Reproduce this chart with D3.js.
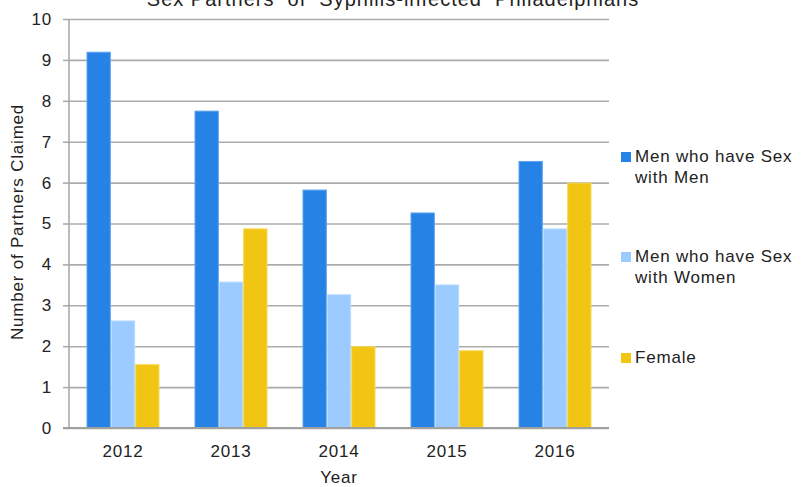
<!DOCTYPE html>
<html><head><meta charset="utf-8">
<script src="https://cdn.jsdelivr.net/npm/d3@7"></script>
<style>
html,body{margin:0;padding:0;background:#fff;}
text{font-family:"Liberation Sans",Arial,sans-serif;fill:#222;}
</style></head>
<body><svg id="c" width="801" height="487"></svg>
<script>
const years = ["2012","2013","2014","2015","2016"];
const seriesNames = ["Men who have Sex with Men","Men who have Sex with Women","Female"];
const msm = [9.2, 7.76, 5.83, 5.27, 6.53];
const msw = [2.63, 3.58, 3.27, 3.51, 4.88];
const female = [1.56, 4.88, 2.0, 1.9, 6.0];
const yTicks = [0,1,2,3,4,5,6,7,8,9,10];
const colors = ["#2683E5","#9BCBFF","#F2C512"];
const strokes = ["#5ea4ef","#b9dcff","#f7d757"];
const legendLines = [["Men who have Sex","with Men"],["Men who have Sex","with Women"],["Female"]];

const series = [msm, msw, female];
const svg = d3.select("#c");
const L = 69, R = 609, T = 19, B = 428;

const x = d3.scaleBand().domain(years).range([L, R]).paddingInner(0.324).paddingOuter(0.162);
const xs = d3.scaleBand().domain(d3.range(series.length)).range([0, x.bandwidth()]);
const y = d3.scaleLinear().domain([0, 10]).range([B, T]);

// gridlines
svg.append("g").attr("transform", `translate(${L},0)`)
  .call(d3.axisLeft(y).tickValues(yTicks).tickSize(-(R - L)).tickFormat(""))
  .call(g => g.select(".domain").remove())
  .call(g => g.selectAll("line").attr("stroke", "#ababab").attr("stroke-width", 1.6));

// y axis with ticks + labels
const ya = svg.append("g").attr("transform", `translate(${L},0)`)
  .call(d3.axisLeft(y).tickValues(yTicks).tickSize(6).tickPadding(11).tickFormat(d3.format("d")));
ya.select(".domain").remove();
ya.selectAll("line").attr("stroke", "#ababab").attr("stroke-width", 1.6);
ya.selectAll("text").attr("font-size", 17).attr("font-family", "Liberation Sans, Arial, sans-serif").attr("fill", "#222").attr("letter-spacing", "0.8px");

// bars
const groups = svg.append("g").selectAll("g").data(years).join("g")
  .attr("transform", d => `translate(${x(d)},0)`);
series.forEach((s, si) => {
  groups.append("rect")
    .attr("x", (d) => xs(si) + 0.5)
    .attr("width", xs.bandwidth() - 1)
    .attr("y", (d, i) => y(s[i]) + 0.5)
    .attr("height", (d, i) => y(0) - y(s[i]) - 0.5)
    .attr("fill", colors[si])
    .attr("stroke", strokes[si]).attr("stroke-width", 1);
});

// vertical axis line
svg.append("line").attr("x1", L).attr("x2", L).attr("y1", T).attr("y2", B)
  .attr("stroke", "#ababab").attr("stroke-width", 1.6);
// baseline
svg.append("line").attr("x1", L - 6).attr("x2", R).attr("y1", B).attr("y2", B)
  .attr("stroke", "#a0a0a0").attr("stroke-width", 2);

// x axis
const xa = svg.append("g").attr("transform", `translate(0,${B})`)
  .call(d3.axisBottom(x).tickSize(0).tickPadding(17));
xa.select(".domain").remove();
xa.selectAll("text").attr("font-size", 17).attr("font-family", "Liberation Sans, Arial, sans-serif").attr("fill", "#222").attr("letter-spacing", "0.8px");

// axis titles
svg.append("text").attr("x", 339).attr("y", 483).attr("text-anchor", "middle")
  .attr("font-size", 17).attr("letter-spacing", "0.8px").text("Year");
svg.append("text").attr("transform", "translate(23,222) rotate(-90)").attr("text-anchor", "middle")
  .attr("font-size", 17).attr("letter-spacing", "0.8px").text("Number of Partners Claimed");

// title (clipped at the top edge, as in the reference)
svg.append("text").attr("x", 393).attr("y", 6).attr("text-anchor", "middle")
  .attr("font-size", 20).attr("letter-spacing", "1px").attr("xml:space", "preserve")
  .style("white-space", "pre")
  .text("Sex Partners  of  Syphilis-infected  Philadelphians");

// legend
const legTop = [152, 252, 353];
const leg = svg.append("g");
seriesNames.forEach((n, i) => {
  const g = leg.append("g");
  g.append("rect").attr("x", 621).attr("y", legTop[i]).attr("width", 10).attr("height", 10).attr("fill", colors[i]);
  legendLines[i].forEach((ln, j) => {
    g.append("text").attr("x", 635).attr("y", legTop[i] + 10 + j * 21)
      .attr("font-size", 17).attr("letter-spacing", "0.8px").text(ln);
  });
});
</script></body></html>
